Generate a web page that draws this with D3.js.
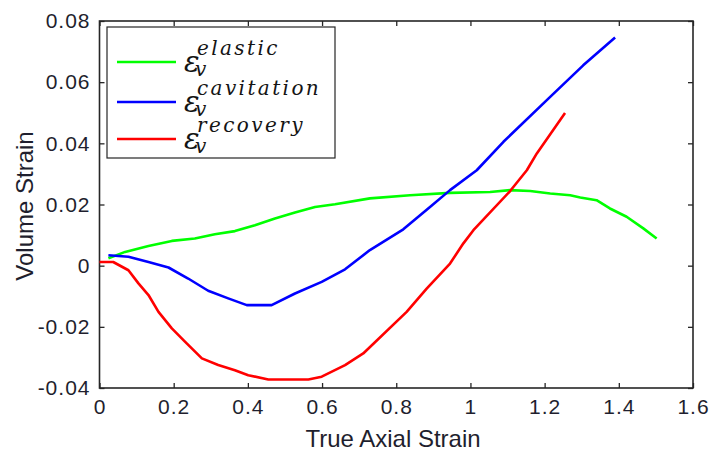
<!DOCTYPE html>
<html>
<head>
<meta charset="utf-8">
<script src="https://cdnjs.cloudflare.com/ajax/libs/d3/7.8.5/d3.min.js"></script>
<style>
    body { margin: 0; background: #fff; }
    svg { display: block; }
    .tick-label { font-family: "Liberation Sans", Arial, sans-serif; font-size: 21px; letter-spacing: 1px; fill: #1f1f2e; }
    .axis-label { font-family: "Liberation Sans", Arial, sans-serif; font-size: 24px; fill: #1f1f2e; }
    .leg-eps { font-family: "DejaVu Serif", serif; font-style: italic; fill: #141414; }
</style>
</head>
<body>
<div id="chart"></div>
<script>
// Данные кривых (true axial strain, volume strain)
const elasticX = [0.024, 0.069, 0.132, 0.195, 0.257, 0.311, 0.365, 0.419, 0.473, 0.527, 0.581, 0.635, 0.729, 0.837, 0.945, 1.053, 1.107, 1.161, 1.215, 1.269, 1.296, 1.340, 1.376, 1.421, 1.466, 1.502];
const elasticY = [0.0024, 0.0045, 0.0064, 0.0081, 0.0089, 0.0103, 0.0113, 0.0132, 0.0154, 0.0174, 0.0192, 0.0201, 0.0220, 0.0230, 0.0238, 0.0241, 0.0247, 0.0244, 0.0236, 0.0230, 0.0223, 0.0214, 0.0187, 0.0160, 0.0122, 0.0089];

const cavitationX = [0.024, 0.078, 0.132, 0.186, 0.239, 0.293, 0.347, 0.397, 0.464, 0.527, 0.599, 0.662, 0.729, 0.819, 0.891, 0.945, 1.017, 1.089, 1.215, 1.304, 1.390];
const cavitationY = [0.0034, 0.0029, 0.0012, -0.0006, -0.0042, -0.0082, -0.0107, -0.0129, -0.0129, -0.0091, -0.0053, -0.0012, 0.0051, 0.0119, 0.0192, 0.0247, 0.0312, 0.0405, 0.0552, 0.0655, 0.0746];

const recoveryX = [0.0, 0.037, 0.078, 0.105, 0.132, 0.159, 0.195, 0.231, 0.276, 0.320, 0.365, 0.401, 0.455, 0.563, 0.599, 0.662, 0.711, 0.828, 0.882, 0.945, 0.981, 1.008, 1.107, 1.152, 1.179, 1.255];
const recoveryY = [0.0012, 0.0012, -0.0015, -0.0058, -0.0096, -0.0151, -0.0205, -0.0249, -0.0303, -0.0325, -0.0342, -0.0358, -0.0372, -0.0372, -0.0363, -0.0325, -0.0287, -0.0151, -0.0075, 0.0007, 0.0073, 0.0116, 0.0244, 0.0312, 0.0367, 0.0499];

const xTicks = [0, 0.2, 0.4, 0.6, 0.8, 1, 1.2, 1.4, 1.6];
const yTicks = [-0.04, -0.02, 0, 0.02, 0.04, 0.06, 0.08];

const seriesNames = ['elastic', 'cavitation', 'recovery'];
const seriesColors = ['#00ff00', '#0000ff', '#ff0000'];

const width = 710, height = 452;
const margin = { top: 21, right: 17, bottom: 64, left: 99.5 };
const plotW = width - margin.left - margin.right;
const plotH = height - margin.top - margin.bottom;

const svg = d3.select('#chart').append('svg')
    .attr('width', width)
    .attr('height', height);

const g = svg.append('g').attr('transform', `translate(${margin.left},${margin.top})`);

const xScale = d3.scaleLinear().domain([0, 1.6]).range([0, plotW]);
const yScale = d3.scaleLinear().domain([-0.04, 0.08]).range([plotH, 0]);

const fmt = d => (d === 0 ? '0' : String(+d.toFixed(2)));

// Оси (засечки внутрь, как в MATLAB)
const axisColor = '#262626';
function styleAxis(sel) {
    sel.select('.domain').remove();
    sel.selectAll('line').attr('stroke', axisColor).attr('stroke-width', 1.3);
    sel.selectAll('text').attr('class', 'tick-label').attr('fill', null);
}

g.append('g')
    .attr('transform', `translate(0,${plotH})`)
    .call(d3.axisBottom(xScale).tickValues(xTicks).tickSizeInner(-5).tickSizeOuter(0).tickPadding(11).tickFormat(fmt))
    .call(styleAxis);

g.append('g')
    .call(d3.axisTop(xScale).tickValues(xTicks).tickSizeInner(-5).tickSizeOuter(0).tickFormat(''))
    .call(styleAxis);

g.append('g')
    .call(d3.axisLeft(yScale).tickValues(yTicks).tickSizeInner(-5).tickSizeOuter(0).tickPadding(9).tickFormat(fmt))
    .call(styleAxis);

g.append('g')
    .attr('transform', `translate(${plotW},0)`)
    .call(d3.axisRight(yScale).tickValues(yTicks).tickSizeInner(-5).tickSizeOuter(0).tickFormat(''))
    .call(styleAxis);

// Рамка
g.append('rect')
    .attr('width', plotW)
    .attr('height', plotH)
    .attr('fill', 'none')
    .attr('stroke', axisColor)
    .attr('stroke-width', 1.6);

// Кривые
const line = d3.line()
    .x(d => xScale(d[0]))
    .y(d => yScale(d[1]));

const series = [
    d3.zip(elasticX, elasticY),
    d3.zip(cavitationX, cavitationY),
    d3.zip(recoveryX, recoveryY)
];

series.forEach((pts, i) => {
    g.append('path')
        .datum(pts)
        .attr('d', line)
        .attr('fill', 'none')
        .attr('stroke', seriesColors[i])
        .attr('stroke-width', 2.6)
        .attr('stroke-linejoin', 'round');
});

// Подписи осей
svg.append('text')
    .attr('class', 'axis-label')
    .attr('x', 393)
    .attr('y', 447)
    .attr('text-anchor', 'middle')
    .text('True Axial Strain');

svg.append('text')
    .attr('class', 'axis-label')
    .attr('transform', 'rotate(-90)')
    .attr('x', -206)
    .attr('y', 33)
    .attr('text-anchor', 'middle')
    .text('Volume Strain');

// Легенда
const legend = svg.append('g').attr('transform', 'translate(107,27)');
legend.append('rect')
    .attr('width', 228)
    .attr('height', 131)
    .attr('fill', '#fff')
    .attr('stroke', axisColor)
    .attr('stroke-width', 1.2);

const legRows = [35, 75, 112];
seriesNames.forEach((name, i) => {
    const y = legRows[i];
    legend.append('line')
        .attr('x1', 10).attr('x2', 69)
        .attr('y1', y).attr('y2', y)
        .attr('stroke', seriesColors[i])
        .attr('stroke-width', 2.6);
    const t = legend.append('text')
        .attr('class', 'leg-eps')
        .attr('x', 77).attr('y', y + 10)
        .attr('font-size', 29);
    t.append('tspan').text('ε');
    t.append('tspan')
        .attr('x', 88).attr('dy', 4)
        .attr('font-size', 20)
        .text('v');
    t.append('tspan')
        .attr('x', 90).attr('dy', -21)
        .attr('font-size', 20)
        .attr('letter-spacing', 2.4)
        .text(name);
});
</script>
</body>
</html>
